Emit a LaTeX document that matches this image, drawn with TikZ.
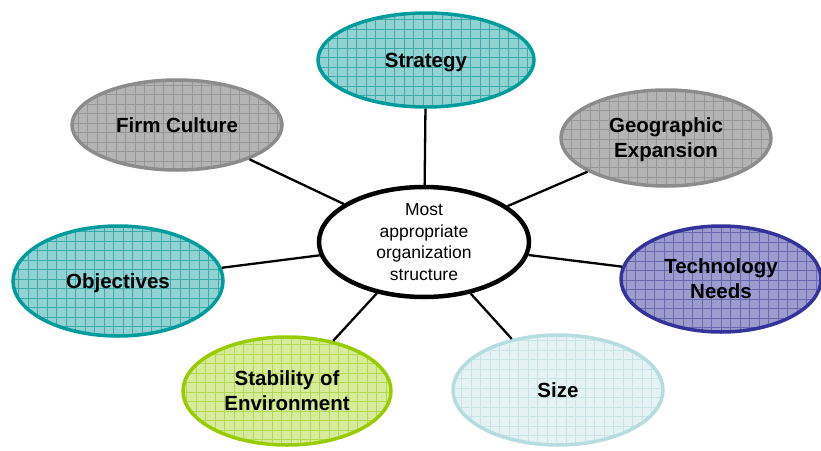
\documentclass[tikz,border=0pt]{standalone}
\usepackage{fontspec}
\setmainfont{Liberation Sans}
\usetikzlibrary{shapes.geometric}
\definecolor{tealB}{HTML}{009B9B}\definecolor{tealF}{HTML}{93D2D2}\definecolor{tealG}{HTML}{3AAAAA}
\definecolor{grayB}{HTML}{8C8C8C}\definecolor{grayF}{HTML}{B4B4B4}\definecolor{grayG}{HTML}{969696}
\definecolor{blueB}{HTML}{333399}\definecolor{blueF}{HTML}{9C9CCE}\definecolor{blueG}{HTML}{6868AE}
\definecolor{greenB}{HTML}{99CC00}\definecolor{greenF}{HTML}{D6EC9C}\definecolor{greenG}{HTML}{B2D850}
\definecolor{lbB}{HTML}{B5DCDF}\definecolor{lbF}{HTML}{E4F2F3}\definecolor{lbG}{HTML}{C8E4E6}
\tikzset{
  oval/.style n args={3}{ellipse, draw=#1, fill=#2, line width=3.5pt, inner sep=0pt,
    align=center, font=\fontsize{20.5}{25}\selectfont\bfseries, text depth=0pt,
    path picture={\draw[#3, line width=0.6pt, step=9.5pt]
      ([xshift=-1pt,yshift=-1pt]path picture bounding box.south west) grid
      (path picture bounding box.north east);}},
  hub/.style={ellipse, draw=black, fill=white, line width=4.5pt, inner sep=0pt,
    minimum width=210pt, minimum height=110pt, align=center,
    font=\fontsize{17.5}{21.5}\selectfont},
  link/.style={line width=2.3pt, black}
}
\begin{document}
\begin{tikzpicture}[x=1pt,y=-1pt]
\useasboundingbox (0,0) rectangle (821,450);
\node[hub] (c) at (424,242) {Most\\appropriate\\organization\\structure};
\node[oval={tealB}{tealF}{tealG}, minimum width=216pt, minimum height=94pt] (st) at (426,60) {Strategy};
\node[oval={grayB}{grayF}{grayG}, minimum width=210pt, minimum height=90pt] (fc) at (177,125) {Firm Culture};
\node[oval={grayB}{grayF}{grayG}, minimum width=210pt, minimum height=96pt] (ge) at (666,138) {Geographic\\Expansion};
\node[oval={tealB}{tealF}{tealG}, minimum width=210pt, minimum height=110pt] (ob) at (118,281) {Objectives};
\node[oval={blueB}{blueF}{blueG}, minimum width=200pt, minimum height=106pt] (tn) at (721,279) {Technology\\Needs};
\node[oval={greenB}{greenF}{greenG}, minimum width=208pt, minimum height=108pt] (sb) at (287,391) {Stability of\\Environment};
\node[oval={lbB}{lbF}{lbG}, minimum width=210pt, minimum height=110pt] (sz) at (558,390) {Size};
\draw[link] (c) -- (st);
\draw[link] (c) -- (fc);
\draw[link] (c) -- (ge);
\draw[link] (c) -- (ob);
\draw[link] (c) -- (tn);
\draw[link] (c) -- (sb);
\draw[link] (c) -- (sz);
\end{tikzpicture}
\end{document}
